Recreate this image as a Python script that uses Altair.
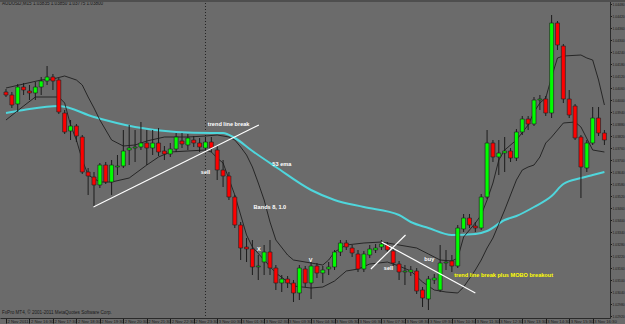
import altair as alt
import pandas as pd

# ---------------- data ----------------
opens = [1.04040, 1.04025, 1.03980, 1.04065, 1.04045, 1.04035, 1.04065, 1.04095, 1.04115, 1.04100,
         1.03935, 1.03845, 1.03870, 1.03815, 1.03640, 1.03615, 1.03575, 1.03675, 1.03590, 1.03665,
         1.03670, 1.03750, 1.03760, 1.03765, 1.03785, 1.03760, 1.03785, 1.03745, 1.03730, 1.03755,
         1.03795, 1.03775, 1.03800, 1.03785, 1.03760, 1.03790, 1.03750, 1.03650, 1.03620, 1.03515,
         1.03375, 1.03265, 1.03255, 1.03165, 1.03190, 1.03240, 1.03160, 1.03085, 1.03105, 1.03085,
         1.03035, 1.03155, 1.03085, 1.03170, 1.03135, 1.03155, 1.03165, 1.03240, 1.03285, 1.03260,
         1.03230, 1.03155, 1.03225, 1.03250, 1.03265, 1.03275, 1.03245, 1.03180, 1.03140, 1.03140,
         1.03145, 1.03050, 1.03005, 1.03100, 1.03050, 1.03185, 1.03195, 1.03170, 1.03355, 1.03410,
         1.03370, 1.03360, 1.03515, 1.03785, 1.03715, 1.03735, 1.03745, 1.03710, 1.03840, 1.03905,
         1.03880, 1.04000, 1.04005, 1.03935, 1.04385, 1.04270, 1.04005, 1.03970, 1.03815, 1.03660,
         1.03785, 1.03910, 1.03835]
closes = [1.04025, 1.03975, 1.04065, 1.04050, 1.04035, 1.04065, 1.04095, 1.04115, 1.04095, 1.03940,
          1.03840, 1.03870, 1.03820, 1.03640, 1.03620, 1.03575, 1.03675, 1.03590, 1.03675, 1.03670,
          1.03745, 1.03760, 1.03765, 1.03785, 1.03760, 1.03785, 1.03740, 1.03730, 1.03755, 1.03815,
          1.03780, 1.03810, 1.03785, 1.03765, 1.03790, 1.03760, 1.03650, 1.03620, 1.03515, 1.03375,
          1.03260, 1.03255, 1.03165, 1.03170, 1.03240, 1.03160, 1.03085, 1.03105, 1.03085, 1.03035,
          1.03160, 1.03085, 1.03170, 1.03135, 1.03150, 1.03165, 1.03240, 1.03285, 1.03265, 1.03235,
          1.03155, 1.03230, 1.03255, 1.03260, 1.03280, 1.03250, 1.03185, 1.03140, 1.03145, 1.03150,
          1.03045, 1.03010, 1.03105, 1.03110, 1.03185, 1.03190, 1.03170, 1.03360, 1.03410, 1.03375,
          1.03360, 1.03515, 1.03785, 1.03715, 1.03735, 1.03745, 1.03710, 1.03840, 1.03905, 1.03880,
          1.04000, 1.04005, 1.03935, 1.04385, 1.04275, 1.04005, 1.03925, 1.03810, 1.03665, 1.03785,
          1.03910, 1.03835, 1.03800]
highs = [1.04055, 1.04040, 1.04080, 1.04085, 1.04075, 1.04090, 1.04115, 1.04170, 1.04130, 1.04110,
         1.03950, 1.03900, 1.03880, 1.03825, 1.03660, 1.03640, 1.03685, 1.03690, 1.03700, 1.03725,
         1.03850, 1.03875, 1.03850, 1.03890, 1.03850, 1.03850, 1.03860, 1.03770, 1.03785, 1.03835,
         1.03835, 1.03830, 1.03820, 1.03810, 1.03815, 1.03815, 1.03775, 1.03700, 1.03640, 1.03525,
         1.03390, 1.03310, 1.03300, 1.03225, 1.03275, 1.03300, 1.03175, 1.03125, 1.03120, 1.03100,
         1.03175, 1.03170, 1.03190, 1.03185, 1.03170, 1.03190, 1.03250, 1.03300, 1.03300, 1.03275,
         1.03250, 1.03245, 1.03275, 1.03280, 1.03300, 1.03290, 1.03260, 1.03195, 1.03175, 1.03170,
         1.03160, 1.03065, 1.03120, 1.03130, 1.03275, 1.03250, 1.03225, 1.03375, 1.03430, 1.03430,
         1.03390, 1.03530, 1.03850, 1.03800, 1.03800, 1.03815, 1.03760, 1.03855, 1.03920, 1.03920,
         1.04015, 1.04025, 1.04020, 1.04425, 1.04395, 1.04280, 1.04050, 1.03980, 1.03825, 1.03800,
         1.03965, 1.03965, 1.03850]
lows = [1.04015, 1.03960, 1.03940, 1.04025, 1.04000, 1.04000, 1.04025, 1.04075, 1.04050, 1.03930,
        1.03830, 1.03800, 1.03790, 1.03630, 1.03525, 1.03465, 1.03560, 1.03580, 1.03525, 1.03625,
        1.03660, 1.03675, 1.03690, 1.03750, 1.03675, 1.03725, 1.03720, 1.03700, 1.03715, 1.03740,
        1.03760, 1.03750, 1.03765, 1.03740, 1.03750, 1.03740, 1.03600, 1.03565, 1.03500, 1.03360,
        1.03200, 1.03190, 1.03125, 1.03100, 1.03125, 1.03125, 1.03050, 1.03040, 1.03060, 1.02990,
        1.03000, 1.03065, 1.03005, 1.03110, 1.03085, 1.03125, 1.03150, 1.03220, 1.03250, 1.03215,
        1.03140, 1.03140, 1.03210, 1.03235, 1.03250, 1.03235, 1.03170, 1.03100, 1.03075, 1.03120,
        1.03030, 1.02965, 1.02950, 1.03080, 1.03040, 1.03150, 1.03140, 1.03160, 1.03340, 1.03360,
        1.03340, 1.03350, 1.03505, 1.03690, 1.03625, 1.03640, 1.03690, 1.03695, 1.03825, 1.03850,
        1.03870, 1.03950, 1.03920, 1.03910, 1.04250, 1.03985, 1.03910, 1.03800, 1.03510, 1.03640,
        1.03775, 1.03820, 1.03775]

ema_idx = [0, 3, 9, 15, 22, 29, 35, 37, 39, 42, 46, 52, 56, 61, 67, 69, 72, 76, 80, 82,
           85, 87, 90, 93, 95, 98, 100, 102]
ema_val = [1.03935, 1.03950, 1.03970, 1.03915, 1.03865, 1.03840, 1.03835, 1.03835, 1.03810, 1.03745,
           1.03665, 1.03550, 1.03500, 1.03465, 1.03425, 1.03390, 1.03360, 1.03325, 1.03330, 1.03345,
           1.03400, 1.03420, 1.03465, 1.03520, 1.03580, 1.03610, 1.03625, 1.03640]

ub_idx = [0, 3, 6, 8, 10, 12, 13, 14, 15, 16, 17, 18, 20, 22, 24, 27, 31, 34, 36, 38,
          39, 40, 41, 42, 43, 44, 45, 46, 48, 49, 52, 54, 55, 56, 58, 61, 64, 67, 70, 72,
          74, 76, 77, 78, 80, 81, 82, 83, 84, 85, 87, 89, 90, 91, 92, 93, 94, 95, 98, 99,
          100, 101, 102]
ub_val = [1.04060, 1.04080, 1.04100, 1.04105, 1.04120, 1.04100, 1.04075, 1.04015, 1.03960, 1.03900,
          1.03850, 1.03800, 1.03770, 1.03775, 1.03795, 1.03815, 1.03815, 1.03820, 1.03825, 1.03815,
          1.03800, 1.03765, 1.03725, 1.03665, 1.03585, 1.03500, 1.03390, 1.03300, 1.03225, 1.03200,
          1.03185, 1.03175, 1.03200, 1.03240, 1.03275, 1.03285, 1.03290, 1.03275, 1.03260, 1.03230,
          1.03200, 1.03195, 1.03210, 1.03315, 1.03385, 1.03425, 1.03500, 1.03585, 1.03700, 1.03750,
          1.03800, 1.03875, 1.03940, 1.03985, 1.04010, 1.04115, 1.04210, 1.04220, 1.04225, 1.04210,
          1.04200, 1.04100, 1.03975]

lb_idx = [0, 3, 5, 9, 10, 11, 12, 13, 14, 16, 18, 21, 24, 26, 28, 34, 35, 36, 37, 39,
          40, 41, 42, 44, 46, 49, 52, 54, 56, 58, 60, 62, 65, 67, 69, 71, 73, 75, 77, 78,
          80, 81, 82, 83, 85, 86, 87, 88, 89, 90, 91, 92, 93, 95, 97, 98, 100, 102]
lb_val = [1.03900, 1.03970, 1.04015, 1.04015, 1.03985, 1.03875, 1.03800, 1.03700, 1.03625, 1.03590,
          1.03590, 1.03610, 1.03675, 1.03715, 1.03740, 1.03750, 1.03740, 1.03710, 1.03685, 1.03525,
          1.03425, 1.03325, 1.03265, 1.03200, 1.03135, 1.03070, 1.03060, 1.03065, 1.03095, 1.03145,
          1.03155, 1.03180, 1.03190, 1.03170, 1.03145, 1.03090, 1.03050, 1.03040, 1.03035, 1.03065,
          1.03150, 1.03200, 1.03260, 1.03310, 1.03450, 1.03525, 1.03600, 1.03650, 1.03665, 1.03675,
          1.03715, 1.03785, 1.03815, 1.03885, 1.03890, 1.03865, 1.03750, 1.03740]

time_labels = ["2 Nov 2011", "2 Nov 16:30", "2 Nov 17:30", "2 Nov 18:30", "2 Nov 19:30",
               "2 Nov 20:30", "2 Nov 21:30", "2 Nov 22:30", "2 Nov 23:30", "3 Nov 00:30",
               "3 Nov 01:30", "3 Nov 02:30", "3 Nov 03:30", "3 Nov 04:30", "3 Nov 05:30",
               "3 Nov 06:30", "3 Nov 07:30", "3 Nov 08:30", "3 Nov 09:30", "3 Nov 10:30",
               "3 Nov 11:30", "3 Nov 12:30", "3 Nov 13:30", "3 Nov 14:30", "3 Nov 15:30",
               "3 Nov 16:30"]
time_tick_idx = [4 * k for k in range(len(time_labels))]
price_ticks = [round(1.04480 - 0.0006 * k, 5) for k in range(27)]
day_separator_idx = [34]

seg_x1 = [14.9, 62.2, 64.0]
seg_y1 = [1.03465, 1.03155, 1.03290]
seg_x2 = [43.1, 68.1, 80.0]
seg_y2 = [1.03875, 1.03325, 1.03035]

ann_text = ["trend line break", "sell", "53 ema", "Bands 8,  1.0", "X", "V", "sell", "buy"]
ann_idx = [34.4, 33.2, 45.4, 42.2, 42.8, 51.6, 64.4, 71.3]
ann_price = [1.03880, 1.03640, 1.03680, 1.03465, 1.03255, 1.03200, 1.03160, 1.03205]
yellow_text = ["trend line break plus MOBO breakout"]
yellow_idx = [76.4]
yellow_price = [1.03125]

header_text = "AUDUSD,M15  1.03835 1.03850 1.03775 1.03800"
footer_text = "FxPro MT4, \u00a9 2001-2011 MetaQuotes Software Corp."

# ---------------- chart ----------------
BG = "#6b6b6b"
FONT = "Liberation Sans"
W, H = 610, 318

candles = pd.DataFrame({"i": list(range(len(opens))), "open": opens, "high": highs,
                        "low": lows, "close": closes})
candles["dir"] = ["up" if c >= o else "down" for o, c in zip(opens, closes)]

xscale = alt.Scale(domain=[-0.17, 102.1], nice=False, zero=False)
yscale = alt.Scale(domain=[1.02910, 1.04500], nice=False, zero=False)

label_expr = "[" + ",".join("'%s'" % s for s in time_labels) + "][round(datum.value / 4)]"

x_axis = alt.Axis(orient="bottom", values=time_tick_idx, labelExpr=label_expr, grid=False,
                  labelAlign="left", labelBaseline="top", labelPadding=-4, labelFontSize=4.2,
                  labelColor="#1a1a1a", labelFont=FONT, tickSize=5, tickColor="#1a1a1a",
                  labelOffset=1, domainColor="#2a2a2a", labelOverlap=False, labelFlush=False,
                  title=None)
y_axis = alt.Axis(orient="right", values=price_ticks, format=".5f", grid=False,
                  labelFontSize=3.4, labelColor="#1a1a1a", labelFont=FONT, labelPadding=0.5,
                  tickSize=1.5, tickColor="#1a1a1a", domainColor="#2a2a2a", labelOverlap=False,
                  labelFlush=False, title=None)


def X(field):
    return alt.X(field, scale=xscale, axis=x_axis)


def Y(field):
    return alt.Y(field, scale=yscale, axis=y_axis)


base = alt.Chart(candles)

wicks = base.mark_rule(color="#1c1c1c", strokeWidth=1).encode(
    x=X("i:Q"), y=Y("low:Q"), y2="high:Q")

bodies = base.mark_bar(size=4, stroke="#262626", strokeWidth=0.7).encode(
    x=X("i:Q"), y=Y("open:Q"), y2="close:Q",
    color=alt.Color("dir:N", scale=alt.Scale(domain=["up", "down"], range=["#00ff00", "#ff0000"]),
                    legend=None),
)

sep = alt.Chart(pd.DataFrame({"i": day_separator_idx})).mark_rule(
    color="#222222", strokeDash=[1, 2], strokeWidth=1).encode(x=X("i:Q"))

ema = alt.Chart(pd.DataFrame({"i": ema_idx, "v": ema_val})).mark_line(
    color="#4fd6dc", strokeWidth=2, interpolate="monotone").encode(x=X("i:Q"), y=Y("v:Q"))

upper = alt.Chart(pd.DataFrame({"i": ub_idx, "v": ub_val})).mark_line(
    color="#141414", strokeWidth=0.8).encode(x=X("i:Q"), y=Y("v:Q"))

lower = alt.Chart(pd.DataFrame({"i": lb_idx, "v": lb_val})).mark_line(
    color="#141414", strokeWidth=0.8).encode(x=X("i:Q"), y=Y("v:Q"))

segs = alt.Chart(pd.DataFrame({"x1": seg_x1, "y1": seg_y1, "x2": seg_x2, "y2": seg_y2})).mark_rule(
    color="#ffffff", strokeWidth=1.2).encode(x=X("x1:Q"), y=Y("y1:Q"), x2="x2:Q", y2="y2:Q")

ann = alt.Chart(pd.DataFrame({"t": ann_text, "i": ann_idx, "p": ann_price})).mark_text(
    color="#ffffff", font=FONT, fontSize=5.6, fontWeight="bold", align="left",
    baseline="middle").encode(x=X("i:Q"), y=Y("p:Q"), text="t:N")

ann_y = alt.Chart(pd.DataFrame({"t": yellow_text, "i": yellow_idx, "p": yellow_price})).mark_text(
    color="#ffff00", font=FONT, fontSize=5.6, fontWeight="bold", align="left",
    baseline="middle").encode(x=X("i:Q"), y=Y("p:Q"), text="t:N")

header = alt.Chart(pd.DataFrame({"t": [header_text]})).mark_text(
    color="#1a1a1a", font=FONT, fontSize=4.6, align="left", baseline="middle").encode(
    x=alt.value(2), y=alt.value(4), text="t:N")

footer = alt.Chart(pd.DataFrame({"t": [footer_text]})).mark_text(
    color="#1a1a1a", font=FONT, fontSize=4.6, align="left", baseline="middle").encode(
    x=alt.value(2), y=alt.value(313), text="t:N")

topbar = alt.Chart(pd.DataFrame({"a": [0]})).mark_rule(color="#4e4e4e", strokeWidth=2).encode(
    x=alt.value(0), x2=alt.value(625), y=alt.value(1))

chart = alt.layer(sep, ema, upper, lower, wicks, bodies, segs, ann, ann_y, header, footer, topbar).properties(
    width=W, height=H, autosize="none",
    padding={"left": 0, "top": 0, "right": 15, "bottom": 6},
).configure(background=BG).configure_view(stroke=None, fill=BG)

chart.save("out.html", embed_options={"renderer": "svg", "actions": False})
